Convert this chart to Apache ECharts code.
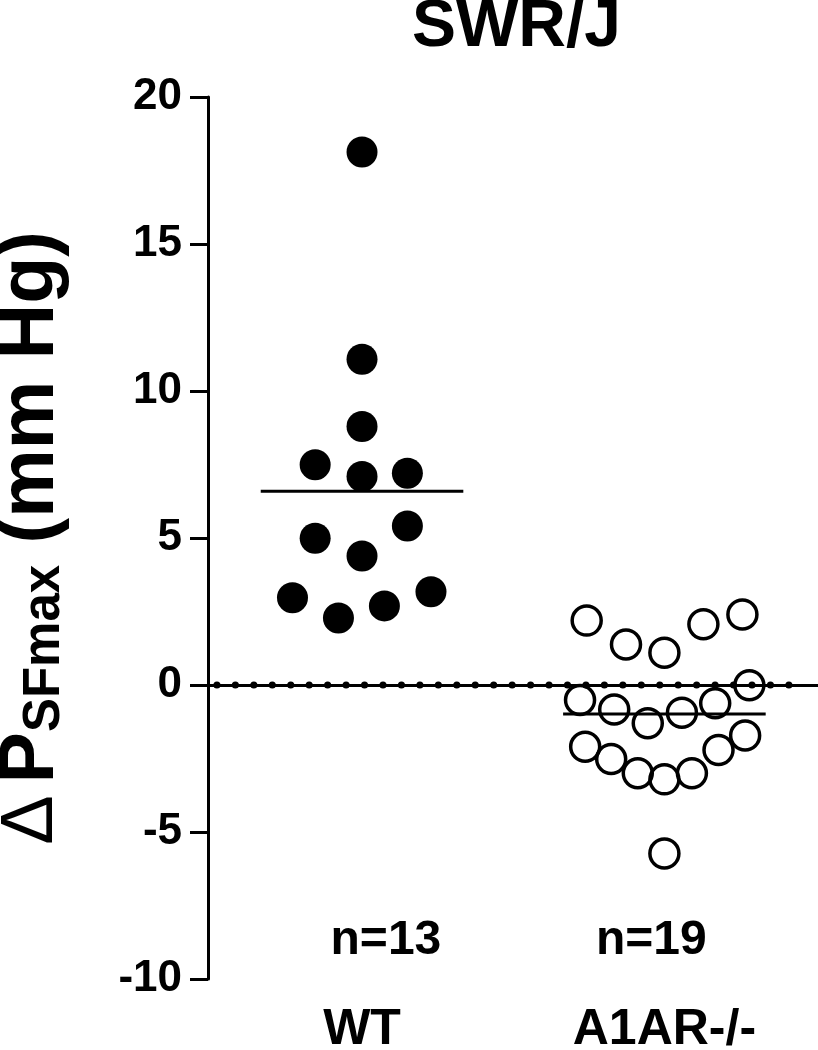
<!DOCTYPE html>
<html>
<head>
<meta charset="utf-8">
<script src="https://cdn.jsdelivr.net/npm/echarts@6/dist/echarts.min.js"></script>
<style>html,body{margin:0;padding:0;background:#fff}#c{width:818px;height:1050px}</style>
</head>
<body>
<div id="c"></div>
<script>
// ---- data ----
const categories = ['WT', 'A1AR-/-'];
const groupPos = [1, 2];
const nLabels = ['n=13', 'n=19'];
const nLabelPos = [[1.079, -8.7], [1.957, -8.7]];
const wtValues = [18.13, 11.08, 8.79, 7.49, 7.09, 7.20, 4.99, 5.41, 4.39, 2.97, 2.28, 2.69, 3.17];
const wtJitter = [0, 0, 0, -0.155, 0, 0.15, -0.155, 0.15, 0, -0.23, -0.078, 0.074, 0.228];
const koValues = [2.19, 1.38, 1.10, 2.07, 2.40, -0.01, -0.51, -0.83, -1.30, -0.94, -0.62, -2.10, -2.52, -3.00, -3.21, -3.00, -2.21, -1.72, -5.73];
const koJitter = [-0.257, -0.127, 0, 0.129, 0.258, 0.281, -0.279, -0.166, -0.055, 0.058, 0.168, -0.262, -0.176, -0.088, 0, 0.091, 0.179, 0.267, 0];
const means = [6.59, -0.99];
const meanHalfWidth = 0.335;
const yTicks = {min: -10, max: 20, interval: 5};
const xRange = {min: 0.4906, max: 2.508};
const zeroLineRange = [0.52, 2.445];

const FONT = '"Liberation Sans", Arial, Helvetica, sans-serif';

const wtData = wtValues.map((v, i) => [groupPos[0] + wtJitter[i], v]);
const koData = koValues.map((v, i) => [groupPos[1] + koJitter[i], v]);

const chart = echarts.init(document.getElementById('c'), null, {renderer: 'canvas'});
chart.setOption({
  backgroundColor: '#fff',
  animation: false,
  title: {
    text: 'SWR/J',
    left: 407, top: -10,
    textStyle: {fontFamily: FONT, fontSize: 66, fontWeight: 'bold', color: '#000'}
  },
  grid: {left: 208, top: 97, width: 610, height: 882, containLabel: false, outerBoundsMode: 'none'},
  xAxis: {
    type: 'value', min: xRange.min, max: xRange.max,
    axisLine: {show: true, lineStyle: {color: '#000', width: 3}},
    axisTick: {show: false},
    splitLine: {show: false},
    axisLabel: {
      customValues: groupPos,
      formatter: v => categories[groupPos.indexOf(Math.round(v))] || '',
      fontFamily: FONT, fontSize: 50, fontWeight: 'bold', color: '#000', margin: 26
    }
  },
  yAxis: {
    type: 'value', min: yTicks.min, max: yTicks.max, interval: yTicks.interval,
    axisLine: {show: true, lineStyle: {color: '#000', width: 3}},
    axisTick: {show: true, inside: false, length: 18, lineStyle: {color: '#000', width: 3}},
    splitLine: {show: false},
    axisLabel: {fontFamily: FONT, fontSize: 44, fontWeight: 'bold', color: '#000', margin: 26},
    name: '{d|\u0394}{p|P}{s|SFmax}{p| (mm Hg)}',
    nameLocation: 'middle', nameRotate: 90, nameGap: 138,
    nameTextStyle: {
      color: '#000',
      rich: {
        d: {fontFamily: FONT, fontSize: 74, fontWeight: 'normal', color: '#000', padding: [0, 12, 0, 0]},
        p: {fontFamily: FONT, fontSize: 77, fontWeight: 'bold', color: '#000'},
        s: {fontFamily: FONT, fontSize: 51, fontWeight: 'bold', color: '#000', verticalAlign: 'bottom'}
      }
    }
  },
  series: [
    {
      type: 'line', data: [[zeroLineRange[0], 0], [zeroLineRange[1], 0]],
      symbol: 'none', z: 5,
      lineStyle: {color: '#000', width: 7, type: [0.1, 18.35], cap: 'round'}
    },
    {
      type: 'line', data: [[groupPos[0] - meanHalfWidth, means[0]], [groupPos[0] + meanHalfWidth, means[0]]],
      symbol: 'none', z: 3, lineStyle: {color: '#000', width: 3}
    },
    {
      type: 'line', data: [[groupPos[1] - meanHalfWidth, means[1]], [groupPos[1] + meanHalfWidth, means[1]]],
      symbol: 'none', z: 3, lineStyle: {color: '#000', width: 3}
    },
    {
      type: 'scatter', data: wtData, symbol: 'circle', symbolSize: 31, z: 4,
      itemStyle: {color: '#000', opacity: 1}
    },
    {
      type: 'scatter', data: koData, symbol: 'circle', symbolSize: 29, z: 4,
      itemStyle: {color: 'rgba(0,0,0,0)', borderColor: '#000', borderWidth: 3.5, opacity: 1}
    },
    {
      type: 'scatter', data: nLabelPos.map((p, i) => [p[0], p[1], nLabels[i]]),
      symbol: 'circle', symbolSize: 0.01, z: 6,
      itemStyle: {color: '#fff', opacity: 1},
      label: {
        show: true, position: [0, 0], align: 'center', verticalAlign: 'middle',
        formatter: p => p.value[2], textBorderWidth: 0, opacity: 1,
        fontFamily: FONT, fontSize: 48, fontWeight: 'bold', color: '#000'
      }
    }
  ]
});
</script>
</body>
</html>
